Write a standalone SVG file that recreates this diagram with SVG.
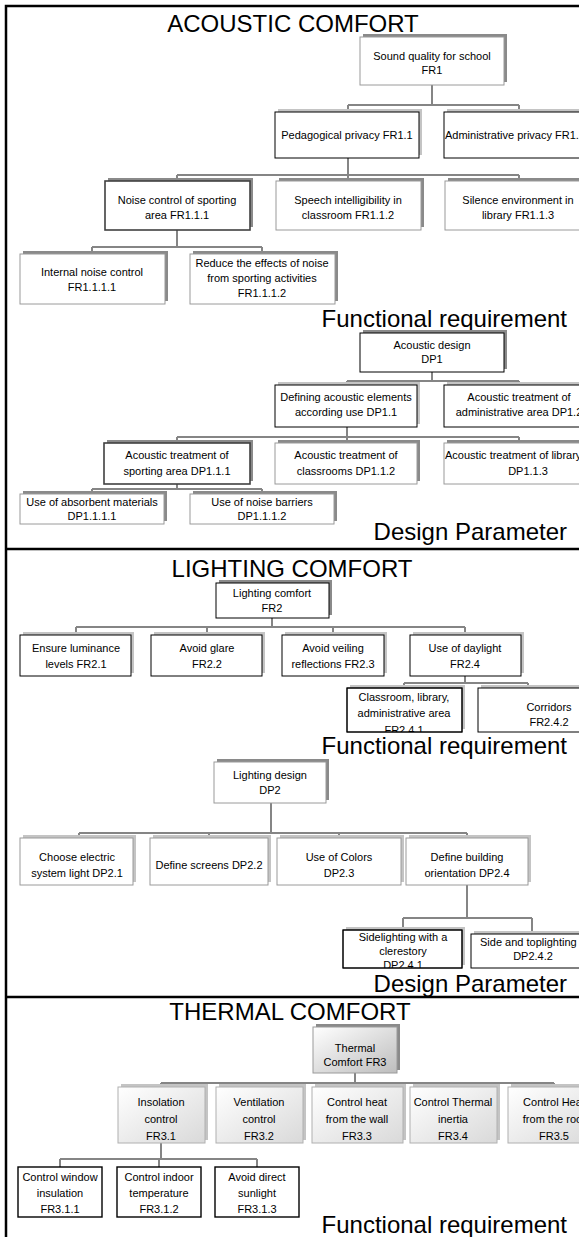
<svg xmlns="http://www.w3.org/2000/svg" width="579" height="1237" viewBox="0 0 579 1237">
<defs>
<linearGradient id="g1" x1="0" y1="0" x2="1" y2="1">
<stop offset="0" stop-color="#ffffff"/><stop offset="1" stop-color="#bdbdbd"/>
</linearGradient>
<linearGradient id="g2" x1="0" y1="0" x2="1" y2="1">
<stop offset="0" stop-color="#ffffff"/><stop offset="1" stop-color="#d9d9d9"/>
</linearGradient>
<clipPath id="c1"><rect x="347" y="688" width="115" height="44"/></clipPath>
<clipPath id="c2"><rect x="343" y="930" width="119" height="38"/></clipPath>
</defs>
<style>
.sd{fill:#8a8a8a}
.sl{fill:#c4c4c4}
.bk{fill:#fff;stroke:#000;stroke-width:1}
.gy{fill:#fff;stroke:#9a9a9a;stroke-width:1}
.dk{fill:#fff;stroke:#404040;stroke-width:1.6}
.tb{fill:#fff;stroke:#000;stroke-width:1.4}
.t{font-family:"Liberation Sans",Arial,sans-serif;font-size:11px;fill:#000;text-anchor:middle}
.s{text-anchor:start}
.big{font-family:"Liberation Sans",Arial,sans-serif;font-size:24px;fill:#000}
.end{text-anchor:end}
.mid{text-anchor:middle}
.conn{stroke:#858585;stroke-width:2;fill:none}
.frame{stroke:#000;stroke-width:2.5;fill:none}
</style>
<rect width="579" height="1237" fill="#fff"/>
<g id="frame">
<path class="frame" d="M6 1237 V6 H579"/>
<path class="frame" d="M6 549 H579"/>
<path class="frame" d="M6 997 H579"/>
</g>
<g id="labels">
<text class="big mid" x="293" y="32">ACOUSTIC COMFORT</text>
<text class="big end" x="567" y="327">Functional requirement</text>
<text class="big end" x="567" y="540">Design Parameter</text>
<text class="big mid" x="292" y="577">LIGHTING COMFORT</text>
<text class="big end" x="567" y="754">Functional requirement</text>
<text class="big end" x="567" y="992">Design Parameter</text>
<text class="big mid" x="290" y="1020">THERMAL COMFORT</text>
<text class="big end" x="567" y="1233">Functional requirement</text>
</g>
<g id="connectors">
<path class="conn" d="M432 85V105M348 105H519M348 105V112M519 105V112"/>
<path class="conn" d="M348 158V175M177 175H519M177 175V181M348 175V181M519 175V181"/>
<path class="conn" d="M177 230V247M92 247H262M92 247V254M262 247V254"/>
<path class="conn" d="M432 372V381M347 381H519M347 381V385M519 381V385"/>
<path class="conn" d="M347 427V437M177 437H519M177 437V443M347 437V443M519 437V443"/>
<path class="conn" d="M177 484V489M92 489H262M92 489V494M262 489V494"/>
<path class="conn" d="M272 618V627M76 627H465M76 627V635M207 627V635M333 627V635M465 627V635"/>
<path class="conn" d="M465 676V683M404 683H528M404 683V688M528 683V688"/>
<path class="conn" d="M271 803V833M79 833H467M79 833V838M209 833V838M339 833V838M467 833V838"/>
<path class="conn" d="M467 885V918M403 918H532M403 918V930M532 918V934"/>
<path class="conn" d="M355 1073V1083M161 1083H554M161 1083V1087M259 1083V1087M357 1083V1087M453 1083V1087M554 1083V1087"/>
<path class="conn" d="M161 1143V1159M60 1159H257M60 1159V1167M159 1159V1167M257 1159V1167"/>
</g>
<g id="FR1"><rect class="sd" x="363" y="34" width="144" height="48"/><rect class="gy" x="360" y="37" width="144" height="48"/><text class="t" x="432" y="60">Sound quality for school</text><text class="t" x="432" y="74">FR1</text></g>
<g id="FR1.1"><rect class="sl" x="278" y="109" width="144" height="46"/><rect class="bk" x="275" y="112" width="144" height="46"/><text class="t" x="347" y="139">Pedagogical privacy  FR1.1</text></g>
<g id="FR1.2"><rect class="sl" x="447" y="109" width="150" height="46"/><rect class="bk" x="444" y="112" width="150" height="46"/><text class="t s" x="445" y="139">Administrative privacy FR1.2</text></g>
<g id="FR1.1.1"><rect class="sd" x="108" y="178" width="145" height="49"/><rect class="dk" x="105" y="181" width="145" height="49"/><text class="t" x="177" y="204">Noise control of sporting</text><text class="t" x="177" y="219">area  FR1.1.1</text></g>
<g id="FR1.1.2"><rect class="sd" x="279" y="178" width="145" height="49"/><rect class="gy" x="276" y="181" width="145" height="49"/><text class="t" x="348" y="204">Speech intelligibility in</text><text class="t" x="348" y="219">classroom FR1.1.2</text></g>
<g id="FR1.1.3"><rect class="sd" x="448" y="178" width="150" height="49"/><rect class="gy" x="445" y="181" width="150" height="49"/><text class="t" x="518" y="204">Silence environment in</text><text class="t" x="518" y="219">library  FR1.1.3</text></g>
<g id="FR1.1.1.1"><rect class="sd" x="23" y="251" width="145" height="50"/><rect class="gy" x="20" y="254" width="145" height="50"/><text class="t" x="92" y="276">Internal noise control</text><text class="t" x="92" y="291">FR1.1.1.1</text></g>
<g id="FR1.1.1.2"><rect class="sd" x="193" y="251" width="145" height="50"/><rect class="gy" x="190" y="254" width="145" height="50"/><text class="t" x="262" y="267">Reduce the effects of noise</text><text class="t" x="262" y="282">from sporting activities</text><text class="t" x="262" y="297">FR1.1.1.2</text></g>
<g id="DP1"><rect class="sd" x="363" y="330" width="144" height="39"/><rect class="bk" x="360" y="333" width="144" height="39"/><text class="t" x="432" y="349">Acoustic design</text><text class="t" x="432" y="363">DP1</text></g>
<g id="DP1.1"><rect class="sl" x="278" y="382" width="142" height="42"/><rect class="bk" x="275" y="385" width="142" height="42"/><text class="t" x="346" y="401">Defining acoustic elements</text><text class="t" x="346" y="416">according use DP1.1</text></g>
<g id="DP1.2"><rect class="sl" x="447" y="382" width="150" height="42"/><rect class="bk" x="444" y="385" width="150" height="42"/><text class="t" x="519" y="401">Acoustic treatment of</text><text class="t" x="519" y="416">administrative area DP1.2</text></g>
<g id="DP1.1.1"><rect class="sd" x="107" y="440" width="146" height="41"/><rect class="dk" x="104" y="443" width="146" height="41"/><text class="t" x="177" y="459">Acoustic treatment of</text><text class="t" x="177" y="475">sporting area DP1.1.1</text></g>
<g id="DP1.1.2"><rect class="sd" x="278" y="440" width="142" height="41"/><rect class="gy" x="275" y="443" width="142" height="41"/><text class="t" x="346" y="459">Acoustic treatment of</text><text class="t" x="346" y="475">classrooms DP1.1.2</text></g>
<g id="DP1.1.3"><rect class="sd" x="447" y="440" width="150" height="41"/><rect class="gy" x="444" y="443" width="150" height="41"/><text class="t s" x="445" y="459">Acoustic treatment of library</text><text class="t" x="528" y="475">DP1.1.3</text></g>
<g id="DP1.1.1.1"><rect class="sd" x="23" y="491" width="144" height="30"/><rect class="gy" x="20" y="494" width="144" height="30"/><text class="t" x="92" y="506">Use of absorbent materials</text><text class="t" x="92" y="520">DP1.1.1.1</text></g>
<g id="DP1.1.1.2"><rect class="sd" x="193" y="491" width="144" height="30"/><rect class="gy" x="190" y="494" width="144" height="30"/><text class="t" x="262" y="506">Use of noise barriers</text><text class="t" x="262" y="520">DP1.1.1.2</text></g>
<g id="FR2"><rect class="sd" x="219" y="580" width="113" height="35"/><rect class="bk" x="216" y="583" width="113" height="35"/><text class="t" x="272" y="597">Lighting comfort</text><text class="t" x="272" y="612">FR2</text></g>
<g id="FR2.1"><rect class="sl" x="23" y="632" width="111" height="41"/><rect class="bk" x="20" y="635" width="111" height="41"/><text class="t" x="76" y="652">Ensure luminance</text><text class="t" x="76" y="668">levels  FR2.1</text></g>
<g id="FR2.2"><rect class="sl" x="154" y="632" width="111" height="41"/><rect class="bk" x="151" y="635" width="111" height="41"/><text class="t" x="207" y="652">Avoid glare</text><text class="t" x="207" y="668">FR2.2</text></g>
<g id="FR2.3"><rect class="sl" x="285" y="632" width="102" height="41"/><rect class="bk" x="282" y="635" width="102" height="41"/><text class="t" x="333" y="652">Avoid veiling</text><text class="t" x="333" y="668">reflections FR2.3</text></g>
<g id="FR2.4"><rect class="sl" x="413" y="632" width="111" height="41"/><rect class="bk" x="410" y="635" width="111" height="41"/><text class="t" x="465" y="652">Use of daylight</text><text class="t" x="465" y="668">FR2.4</text></g>
<g id="FR2.4.1"><rect class="sl" x="350" y="685" width="115" height="44"/><rect class="bk" x="347" y="688" width="115" height="44"/><g clip-path="url(#c1)"><text class="t" x="404" y="701">Classroom, library,</text><text class="t" x="404" y="717">administrative area</text><text class="t" x="404" y="734">FR2.4.1</text></g><rect x="347" y="688" width="115" height="44" fill="none" stroke="#000"/></g>
<g id="FR2.4.2"><rect class="sl" x="481" y="685" width="130" height="44"/><rect class="bk" x="478" y="688" width="130" height="44"/><text class="t" x="549" y="711">Corridors</text><text class="t" x="549" y="726">FR2.4.2</text></g>
<g id="DP2"><rect class="sd" x="217" y="759" width="112" height="41"/><rect class="gy" x="214" y="762" width="112" height="41"/><text class="t" x="270" y="779">Lighting design</text><text class="t" x="270" y="794">DP2</text></g>
<g id="DP2.1"><rect class="sl" x="23" y="835" width="113" height="47"/><rect class="gy" x="20" y="838" width="113" height="47"/><text class="t" x="77" y="861">Choose electric</text><text class="t" x="77" y="877">system light  DP2.1</text></g>
<g id="DP2.2"><rect class="sl" x="153" y="835" width="118" height="47"/><rect class="gy" x="150" y="838" width="118" height="47"/><text class="t" x="209" y="869">Define screens DP2.2</text></g>
<g id="DP2.3"><rect class="sl" x="280" y="835" width="124" height="47"/><rect class="gy" x="277" y="838" width="124" height="47"/><text class="t" x="339" y="861">Use of Colors</text><text class="t" x="339" y="877">DP2.3</text></g>
<g id="DP2.4"><rect class="sl" x="409" y="835" width="122" height="47"/><rect class="gy" x="406" y="838" width="122" height="47"/><text class="t" x="467" y="861">Define building</text><text class="t" x="467" y="877">orientation  DP2.4</text></g>
<g id="DP2.4.1"><rect class="sl" x="346" y="927" width="119" height="38"/><rect class="bk" x="343" y="930" width="119" height="38"/><g clip-path="url(#c2)"><text class="t" x="403" y="941">Sidelighting with a</text><text class="t" x="403" y="955">clerestory</text><text class="t" x="403" y="969">DP2.4.1</text></g><rect x="343" y="930" width="119" height="38" fill="none" stroke="#000"/></g>
<g id="DP2.4.2"><rect class="sl" x="474" y="931" width="122" height="34"/><rect class="bk" x="471" y="934" width="122" height="34"/><text class="t s" x="480" y="946">Side and toplighting</text><text class="t" x="533" y="960">DP2.4.2</text></g>
<g id="FR3"><rect class="sd" x="316" y="1024" width="84" height="46"/><rect x="313" y="1027" width="84" height="46" fill="url(#g1)" stroke="#9a9a9a"/><text class="t" x="355" y="1052">Thermal</text><text class="t" x="355" y="1066">Comfort FR3</text></g>
<g id="FR3.1"><rect class="sl" x="121" y="1084" width="87" height="56"/><rect x="118" y="1087" width="87" height="56" fill="url(#g2)" stroke="#b0b0b0"/><text class="t" x="161" y="1106">Insolation</text><text class="t" x="161" y="1123">control</text><text class="t" x="161" y="1140">FR3.1</text></g>
<g id="FR3.2"><rect class="sl" x="219" y="1084" width="87" height="56"/><rect x="216" y="1087" width="87" height="56" fill="url(#g2)" stroke="#b0b0b0"/><text class="t" x="259" y="1106">Ventilation</text><text class="t" x="259" y="1123">control</text><text class="t" x="259" y="1140">FR3.2</text></g>
<g id="FR3.3"><rect class="sl" x="315" y="1084" width="91" height="56"/><rect x="312" y="1087" width="91" height="56" fill="url(#g2)" stroke="#b0b0b0"/><text class="t" x="357" y="1106">Control heat</text><text class="t" x="357" y="1123">from the wall</text><text class="t" x="357" y="1140">FR3.3</text></g>
<g id="FR3.4"><rect class="sl" x="413" y="1084" width="87" height="56"/><rect x="410" y="1087" width="87" height="56" fill="url(#g2)" stroke="#b0b0b0"/><text class="t" x="453" y="1106">Control Thermal</text><text class="t" x="453" y="1123">inertia</text><text class="t" x="453" y="1140">FR3.4</text></g>
<g id="FR3.5"><rect class="sl" x="511" y="1084" width="92" height="56"/><rect x="508" y="1087" width="92" height="56" fill="url(#g2)" stroke="#b0b0b0"/><text class="t" x="554" y="1106">Control Heat</text><text class="t" x="554" y="1123">from the roof</text><text class="t" x="554" y="1140">FR3.5</text></g>
<g id="FR3.1.1"><rect class="tb" x="18" y="1167" width="84" height="50"/><text class="t" x="60" y="1181">Control window</text><text class="t" x="60" y="1197">insulation</text><text class="t" x="60" y="1213">FR3.1.1</text></g>
<g id="FR3.1.2"><rect class="tb" x="117" y="1167" width="84" height="50"/><text class="t" x="159" y="1181">Control indoor</text><text class="t" x="159" y="1197">temperature</text><text class="t" x="159" y="1213">FR3.1.2</text></g>
<g id="FR3.1.3"><rect class="tb" x="215" y="1167" width="84" height="50"/><text class="t" x="257" y="1181">Avoid direct</text><text class="t" x="257" y="1197">sunlight</text><text class="t" x="257" y="1213">FR3.1.3</text></g>
</svg>
